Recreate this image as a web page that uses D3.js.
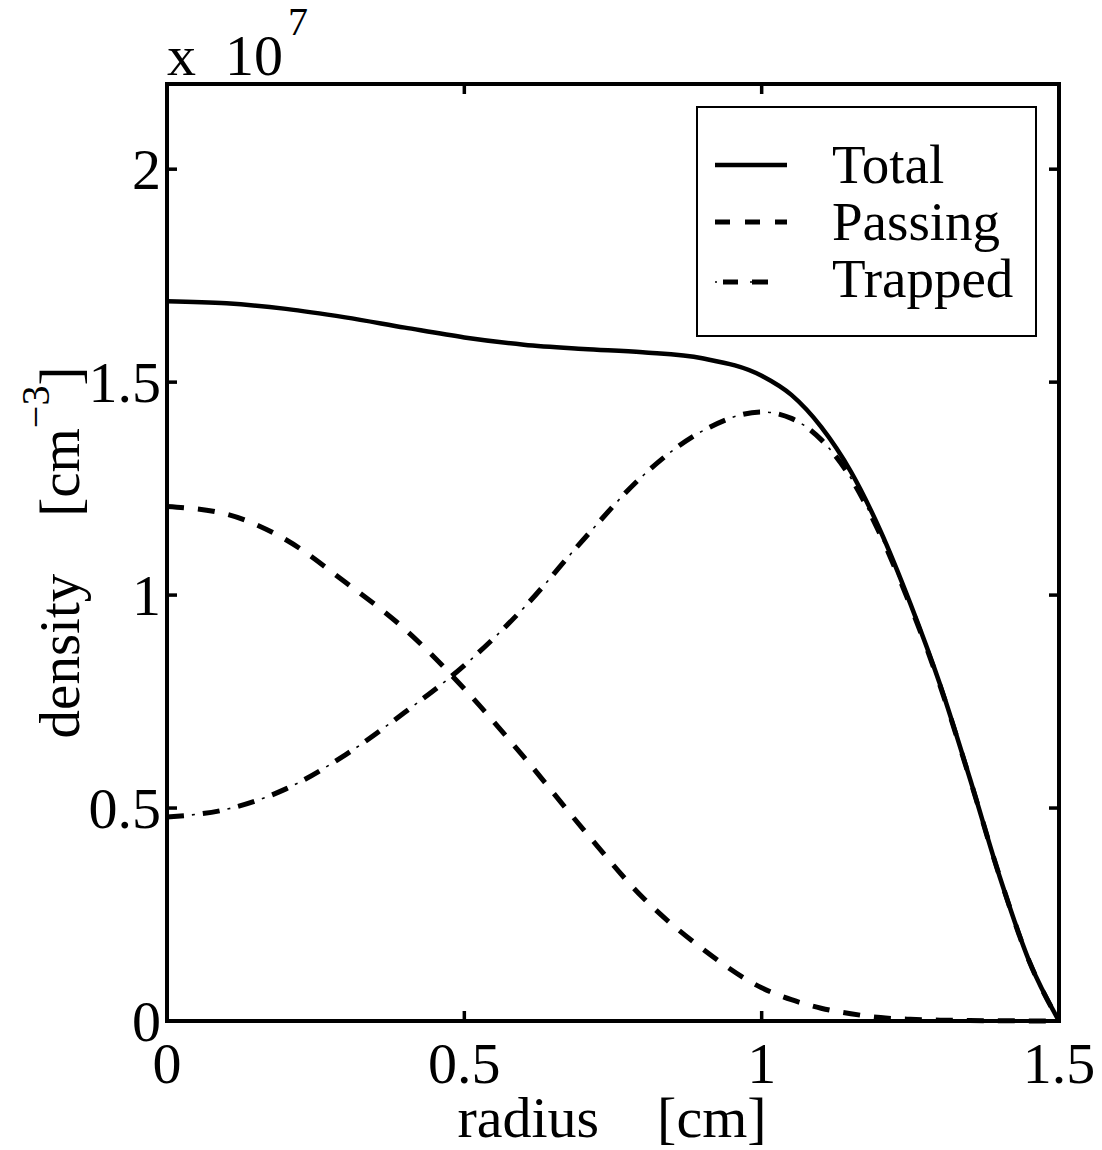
<!DOCTYPE html>
<html>
<head>
<meta charset="utf-8">
<script src="https://cdn.jsdelivr.net/npm/d3@7"></script>
<style>
  body { margin: 0; background: #fff; }
  svg text { font-family: "Liberation Serif", "Times New Roman", serif; fill: #000; white-space: pre; }
</style>
</head>
<body>
<div id="chart"></div>
<script>
// radius in cm, densities in units of 1e7 cm^-3
const radius  = [0, 0.1, 0.2, 0.3, 0.4, 0.5, 0.6, 0.7, 0.8, 0.9, 1.0, 1.05, 1.1, 1.15, 1.2, 1.25, 1.3, 1.35, 1.4, 1.45, 1.5];
const total   = [1.69, 1.685, 1.672, 1.652, 1.628, 1.605, 1.588, 1.578, 1.570, 1.556, 1.515, 1.47, 1.395, 1.29, 1.15, 0.98, 0.79, 0.57, 0.34, 0.14, 0];
const passing = [1.208, 1.19, 1.13, 1.03, 0.92, 0.78, 0.62, 0.45, 0.29, 0.17, 0.078, 0.05, 0.03, 0.017, 0.008, 0.004, 0.002, 0.001, 0.0005, 0.0002, 0];
const trapped = [0.479, 0.497, 0.545, 0.625, 0.725, 0.835, 0.97, 1.13, 1.28, 1.385, 1.43, 1.415, 1.365, 1.275, 1.14, 0.975, 0.787, 0.569, 0.34, 0.14, 0];

const xTicks = [0, 0.5, 1, 1.5];
const yTicks = [0, 0.5, 1, 1.5, 2];
const seriesNames = ["Total", "Passing", "Trapped"];

const W = 1102, H = 1150;
const margin = { top: 84, right: 43, bottom: 129, left: 167 };
const width = W - margin.left - margin.right;
const height = H - margin.top - margin.bottom;

const svg = d3.select("#chart").append("svg")
  .attr("width", W)
  .attr("height", H);

const x = d3.scaleLinear().domain([0, 1.5]).range([margin.left, margin.left + width]);
const y = d3.scaleLinear().domain([0, 2.2]).range([margin.top + height, margin.top]);

const line = vals => d3.line()
  .x((d, i) => x(radius[i]))
  .y(d => y(d))
  .curve(d3.curveMonotoneX)(vals);

const plot = svg.append("g");

// curves
plot.append("path").attr("d", line(total))
  .attr("fill", "none").attr("stroke", "#000").attr("stroke-width", 4.5);

plot.append("path").attr("d", line(passing))
  .attr("fill", "none").attr("stroke", "#000").attr("stroke-width", 5)
  .attr("stroke-dasharray", "17,14");

// dash-dot: thick dashes plus thin dots in between
plot.append("path").attr("d", line(trapped))
  .attr("fill", "none").attr("stroke", "#000").attr("stroke-width", 5)
  .attr("stroke-dasharray", "17,19");
plot.append("path").attr("d", line(trapped))
  .attr("fill", "none").attr("stroke", "#000").attr("stroke-width", 1.6)
  .attr("stroke-dasharray", "3,33").attr("stroke-dashoffset", -25);

// frame and ticks
const x0 = x(0), x1 = x(1.5), y0 = y(0), y1 = y(2.2);
svg.append("rect")
  .attr("x", x0).attr("y", y1).attr("width", x1 - x0).attr("height", y0 - y1)
  .attr("fill", "none").attr("stroke", "#000").attr("stroke-width", 4);

const tickLen = 10;
const ticks = svg.append("g").attr("stroke", "#000").attr("stroke-width", 3.5);
xTicks.slice(1, -1).forEach(t => {
  ticks.append("line").attr("x1", x(t)).attr("x2", x(t)).attr("y1", y0).attr("y2", y0 - tickLen);
  ticks.append("line").attr("x1", x(t)).attr("x2", x(t)).attr("y1", y1).attr("y2", y1 + tickLen);
});
yTicks.slice(1).forEach(t => {
  ticks.append("line").attr("x1", x0).attr("x2", x0 + tickLen).attr("y1", y(t)).attr("y2", y(t));
  ticks.append("line").attr("x1", x1).attr("x2", x1 - tickLen).attr("y1", y(t)).attr("y2", y(t));
});

// tick labels
const fs = 58;
svg.append("g").selectAll("text").data(xTicks).join("text")
  .attr("x", d => x(d)).attr("y", y0 + 62)
  .attr("text-anchor", "middle").attr("font-size", fs)
  .text(d => d);

svg.append("g").selectAll("text").data(yTicks).join("text")
  .attr("x", x0 - 6).attr("y", d => y(d) + 20)
  .attr("text-anchor", "end").attr("font-size", fs)
  .text(d => d);

// exponent
const expo = svg.append("text").attr("x", x0).attr("y", 75).attr("font-size", fs);
expo.append("tspan").text("x  10");
expo.append("tspan").attr("font-size", 40).attr("dx", 5).attr("dy", -40).text("7");

// axis titles
svg.append("text")
  .attr("x", 612).attr("y", 1137)
  .attr("text-anchor", "middle").attr("font-size", fs)
  .text("radius    [cm]");

const yl = svg.append("text")
  .attr("transform", `translate(79,${(y0 + y1) / 2}) rotate(-90)`)
  .attr("text-anchor", "middle").attr("font-size", 57);
yl.append("tspan").text("density    [cm");
yl.append("tspan").attr("font-size", 40).attr("dy", -30).text("\u22123");
yl.append("tspan").attr("dy", 30).text("]");

// legend
const lg = svg.append("g");
lg.append("rect").attr("x", 697).attr("y", 107).attr("width", 339).attr("height", 229)
  .attr("fill", "#fff").attr("stroke", "#000").attr("stroke-width", 2);

const rows = [183, 240, 297];
const lx0 = 715, lx1 = 787;
lg.append("line").attr("x1", lx0).attr("x2", lx1).attr("y1", rows[0] - 18).attr("y2", rows[0] - 18)
  .attr("stroke", "#000").attr("stroke-width", 4.5);
lg.append("line").attr("x1", lx0).attr("x2", lx1).attr("y1", rows[1] - 18).attr("y2", rows[1] - 18)
  .attr("stroke", "#000").attr("stroke-width", 5).attr("stroke-dasharray", "15,15");
lg.append("line").attr("x1", lx0).attr("x2", lx1).attr("y1", rows[2] - 15).attr("y2", rows[2] - 15)
  .attr("stroke", "#000").attr("stroke-width", 5).attr("stroke-dasharray", "0,8,15,14,16,20");
lg.append("line").attr("x1", lx0).attr("x2", lx1).attr("y1", rows[2] - 15).attr("y2", rows[2] - 15)
  .attr("stroke", "#000").attr("stroke-width", 1.6).attr("stroke-dasharray", "2,33,2,40");

lg.selectAll("text.lab").data(seriesNames).join("text")
  .attr("class", "lab")
  .attr("x", 832).attr("y", (d, i) => rows[i])
  .attr("font-size", 55)
  .text(d => d);
</script>
</body>
</html>
